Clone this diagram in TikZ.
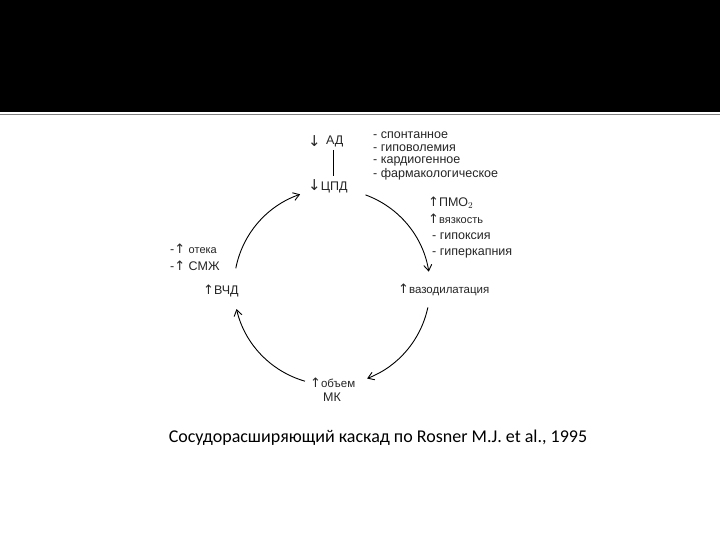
\documentclass[tikz,border=0pt]{standalone}
\usepackage{fontspec}
\setmainfont{Liberation Sans}
\newfontfamily\capfont{Carlito}
\newfontfamily\arfont{DejaVu Sans}
\usetikzlibrary{arrows.meta}
\begin{document}
\begin{tikzpicture}[x=1pt,y=-1pt,
  lbl/.style={anchor=west,inner sep=0pt,font=\fontsize{12.5}{14}\selectfont,text=black!85},
  cyc/.style={line width=0.9pt,-{Straight Barb[length=6pt,width=8pt]}}]
\useasboundingbox (0,0) rectangle (720,540);
\fill[white] (0,0) rectangle (720,540);
\fill[black] (0,0) rectangle (720,112);
\draw[gray,line width=1pt] (0,115) -- (720,115);
\def\A{{\arfont\fontsize{13}{14}\selectfont ↑}}
\def\D{{\arfont\fontsize{15}{15}\selectfont ↓}}
% top
\node[lbl] (dn) at (308,141) {\D};
\node[lbl] (ad) at (326,141) {АД};
\node[lbl] (cpd) at (308,186) {\D ЦПД};
\draw[line width=0.8pt] (333,150) -- (333,176);
\node[lbl] (l1) at (373,135) {- спонтанное};
\node[lbl] (l2) at (373,148) {- гиповолемия};
\node[lbl] (l3) at (373,161) {- кардиогенное};
\node[lbl] (l4) at (373,174) {- фармакологическое};
% right
\node[lbl] (p1) at (428,203) {\A ПМО$_2$};
\node[lbl] (p2) at (428,219) {\A{\fontsize{11}{14}\selectfont вязкость}};
\node[lbl] (p3) at (432,236) {- гипоксия};
\node[lbl] (p4) at (432,253) {- гиперкапния};
\node[lbl] (vaz) at (398,290) {\A{\fontsize{11.5}{14}\selectfont вазодилатация}};
\node[lbl] (ob) at (310,383) {\A{\fontsize{11.5}{14}\selectfont объем}};
\node[lbl] (mk) at (323,397) {МК};
\node[lbl] (vcd) at (203,291) {\A ВЧД};
\node[lbl] (ot) at (170,249) {-\A\ {\fontsize{11}{14}\selectfont отека}};
\node[lbl] (smg) at (170,266) {-\A\ СМЖ};
% cycle
\coordinate (c) at (332,287);
\draw[cyc] (c) ++(-70:98) arc[start angle=-70,end angle=-9,radius=98];
\draw[cyc] (c) ++(12:98) arc[start angle=12,end angle=69,radius=98];
\draw[cyc] (c) ++(106:98) arc[start angle=106,end angle=167,radius=98];
\draw[cyc] (c) ++(191:98) arc[start angle=191,end angle=251,radius=98];
\node[font=\capfont\fontsize{18}{20}\selectfont,inner sep=0pt] (cap) at (378,438) {Сосудорасширяющий каскад по Rosner M.J. et al., 1995};
\end{tikzpicture}
\end{document}
